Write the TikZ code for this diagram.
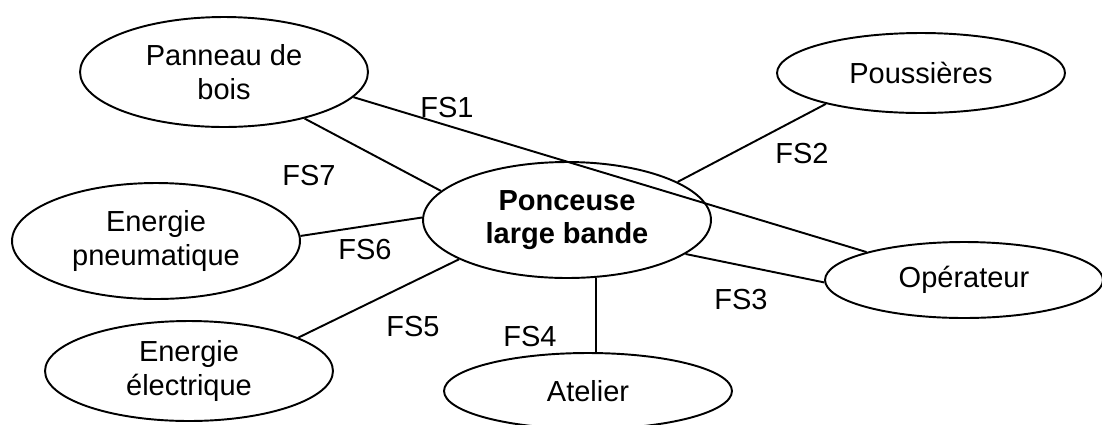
\documentclass[tikz,border=0pt]{standalone}
\usepackage{fontspec}
\setmainfont{Liberation Sans}
\usetikzlibrary{shapes.geometric}

\begin{document}
\begin{tikzpicture}[x=0.02cm, y=-0.02cm,
    bulle/.style={draw, ellipse, line width=1.1pt, inner sep=0pt, align=center,
      minimum width=5.76cm, font=\fontsize{16.5}{19}\selectfont},
    lien/.style={line width=1.1pt},
    fs/.style={font=\fontsize{16.5}{19}\selectfont}]
    \useasboundingbox (0,0) rectangle (1102,424);

    % --- 1. Produit au centre ---
    \node[bulle, minimum height=2.32cm] (ponc) at (567,220) {\textbf{Ponceuse}\\\textbf{large bande}};

    % --- 2. Milieux extérieurs ---
    \node[bulle, minimum height=2.2cm] (pan) at (224,72) {Panneau de\\bois};
    \node[bulle, minimum height=1.6cm] (pous) at (921,73) {Poussières};
    \node[bulle, minimum height=1.52cm, minimum width=5.56cm] (oper) at (964,280) {Opérateur};
    \node[bulle, minimum height=2.32cm] (pneu) at (156,241) {Energie\\pneumatique};
    \node[bulle, minimum height=2cm] (elec) at (189,371) {Energie\\électrique};
    \node[bulle, minimum height=1.52cm] (atel) at (588,391) {Atelier};

    % --- 3. Fonctions de service ---
    \draw[lien] (pan.-11) -- (oper.164);
    \draw[lien] (ponc.19) -- (pous.198);
    \draw[lien] (ponc.-16) -- (oper.181);
    \draw[lien] (ponc.-63) -- (ponc.-63 |- atel.north);
    \draw[lien] (ponc.200) -- (elec.17);
    \draw[lien] (ponc.179) -- (pneu.2);
    \draw[lien] (pan.-30) -- (ponc.167);

    % --- 4. Etiquettes FS ---
    \node[fs] (fs1) at (447,108) {FS1};
    \node[fs] (fs2) at (802,154) {FS2};
    \node[fs] (fs3) at (741,300) {FS3};
    \node[fs] (fs4) at (530,337) {FS4};
    \node[fs] (fs5) at (413,327) {FS5};
    \node[fs] (fs6) at (365,250) {FS6};
    \node[fs] (fs7) at (309,176) {FS7};
\end{tikzpicture}
\end{document}
